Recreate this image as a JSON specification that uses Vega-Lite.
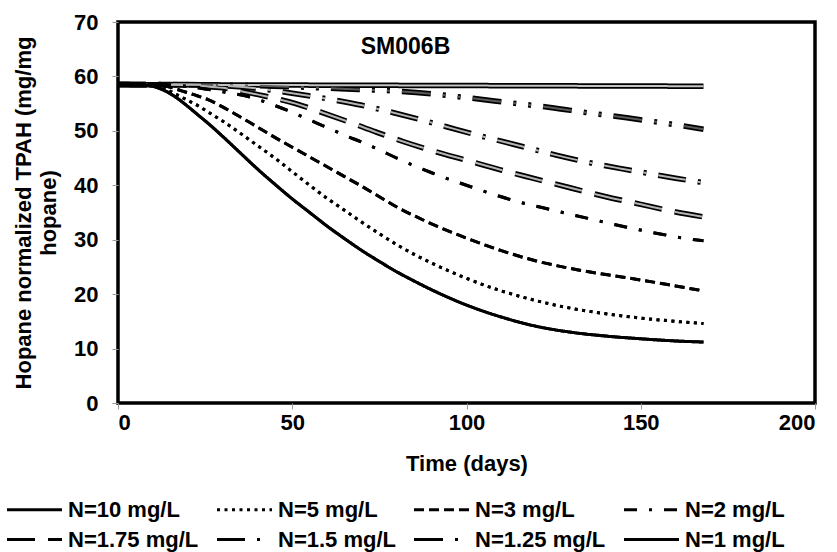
{
"$schema": "https://vega.github.io/schema/vega-lite/v6.json",
"width": 697, "height": 381,
"autosize": {"type": "none"},
"padding": {"left": 118, "top": 22, "right": 22, "bottom": 149},
"background": "white",
"config": {
 "font": "Liberation Sans",
 "view": {"stroke": "black", "strokeWidth": 3.5},
 "axis": {"labelFont": "Liberation Sans", "labelFontWeight": "bold", "labelFontSize": 22, "labelColor": "black",
  "titleFont": "Liberation Sans", "titleFontWeight": "bold", "titleFontSize": 22, "titleColor": "black",
  "grid": false, "domain": false, "tickColor": "#999999", "tickSize": 6, "tickWidth": 1},
 "legend": {"orient": "none", "legendX": -99, "legendY": 472, "columns": 4, "direction": "horizontal", "title": null,
  "symbolType": "M-2,0H2", "symbolSize": 756, "symbolStrokeWidth": 3, "symbolStrokeColor": "black", "labelFont": "Liberation Sans", "labelFontSize": 22, "labelFontWeight": "bold",
  "labelColor": "black", "labelOffset": 18, "columnPadding": 12, "rowPadding": 3, "labelLimit": 300, "padding": 0}
},
"title": {"text": "SM006B", "font": "Liberation Sans", "fontSize": 23, "fontWeight": "bold", "color": "black", "anchor": "middle", "dx": -61, "dy": 48, "offset": 0},
"data": {"values": [
{"N":"N=1 mg/L","t":0,"v":58.5},{"N":"N=1 mg/L","t":84,"v":58.35},{"N":"N=1 mg/L","t":168,"v":58.2},
{"N":"N=1.25 mg/L","t":0,"v":58.5},{"N":"N=1.25 mg/L","t":30,"v":58.4},{"N":"N=1.25 mg/L","t":50,"v":58.1},{"N":"N=1.25 mg/L","t":69,"v":57.6},{"N":"N=1.25 mg/L","t":80,"v":57.3},{"N":"N=1.25 mg/L","t":90,"v":56.8},{"N":"N=1.25 mg/L","t":100,"v":56.1},{"N":"N=1.25 mg/L","t":112,"v":55.2},{"N":"N=1.25 mg/L","t":124,"v":54.3},{"N":"N=1.25 mg/L","t":135,"v":53.3},{"N":"N=1.25 mg/L","t":146,"v":52.4},{"N":"N=1.25 mg/L","t":157,"v":51.4},{"N":"N=1.25 mg/L","t":168,"v":50.3},
{"N":"N=1.5 mg/L","t":0,"v":58.5},{"N":"N=1.5 mg/L","t":20,"v":58.5},{"N":"N=1.5 mg/L","t":30,"v":58.3},{"N":"N=1.5 mg/L","t":40,"v":57.8},{"N":"N=1.5 mg/L","t":49,"v":57.0},{"N":"N=1.5 mg/L","t":60,"v":55.9},{"N":"N=1.5 mg/L","t":70,"v":54.7},{"N":"N=1.5 mg/L","t":78,"v":53.5},{"N":"N=1.5 mg/L","t":86,"v":52.2},{"N":"N=1.5 mg/L","t":94,"v":50.8},{"N":"N=1.5 mg/L","t":102,"v":49.4},{"N":"N=1.5 mg/L","t":110,"v":48.1},{"N":"N=1.5 mg/L","t":118,"v":46.8},{"N":"N=1.5 mg/L","t":126,"v":45.5},{"N":"N=1.5 mg/L","t":135,"v":44.2},{"N":"N=1.5 mg/L","t":144,"v":43.1},{"N":"N=1.5 mg/L","t":152,"v":42.2},{"N":"N=1.5 mg/L","t":160,"v":41.3},{"N":"N=1.5 mg/L","t":168,"v":40.5},
{"N":"N=1.75 mg/L","t":0,"v":58.5},{"N":"N=1.75 mg/L","t":15,"v":58.5},{"N":"N=1.75 mg/L","t":25,"v":58.2},{"N":"N=1.75 mg/L","t":30,"v":57.9},{"N":"N=1.75 mg/L","t":36,"v":57.2},{"N":"N=1.75 mg/L","t":42,"v":56.4},{"N":"N=1.75 mg/L","t":51,"v":55.0},{"N":"N=1.75 mg/L","t":58,"v":53.5},{"N":"N=1.75 mg/L","t":66,"v":51.7},{"N":"N=1.75 mg/L","t":74,"v":49.8},{"N":"N=1.75 mg/L","t":82,"v":48.0},{"N":"N=1.75 mg/L","t":90,"v":46.4},{"N":"N=1.75 mg/L","t":100,"v":44.6},{"N":"N=1.75 mg/L","t":110,"v":42.8},{"N":"N=1.75 mg/L","t":119,"v":41.3},{"N":"N=1.75 mg/L","t":130,"v":39.5},{"N":"N=1.75 mg/L","t":140,"v":37.9},{"N":"N=1.75 mg/L","t":150,"v":36.5},{"N":"N=1.75 mg/L","t":160,"v":35.1},{"N":"N=1.75 mg/L","t":168,"v":34.2},
{"N":"N=2 mg/L","t":0,"v":58.5},{"N":"N=2 mg/L","t":14,"v":58.5},{"N":"N=2 mg/L","t":20,"v":58.2},{"N":"N=2 mg/L","t":25,"v":57.7},{"N":"N=2 mg/L","t":30,"v":57.2},{"N":"N=2 mg/L","t":38,"v":56.2},{"N":"N=2 mg/L","t":44,"v":54.9},{"N":"N=2 mg/L","t":50,"v":53.4},{"N":"N=2 mg/L","t":55,"v":52.0},{"N":"N=2 mg/L","t":60,"v":50.6},{"N":"N=2 mg/L","t":65,"v":49.2},{"N":"N=2 mg/L","t":70,"v":47.9},{"N":"N=2 mg/L","t":75,"v":46.5},{"N":"N=2 mg/L","t":80,"v":45.0},{"N":"N=2 mg/L","t":90,"v":42.3},{"N":"N=2 mg/L","t":100,"v":40.0},{"N":"N=2 mg/L","t":113,"v":37.3},{"N":"N=2 mg/L","t":125,"v":35.4},{"N":"N=2 mg/L","t":135,"v":33.9},{"N":"N=2 mg/L","t":146,"v":32.3},{"N":"N=2 mg/L","t":156,"v":31.0},{"N":"N=2 mg/L","t":164,"v":30.1},{"N":"N=2 mg/L","t":168,"v":29.8},
{"N":"N=3 mg/L","t":0,"v":58.5},{"N":"N=3 mg/L","t":10,"v":58.5},{"N":"N=3 mg/L","t":14,"v":58.2},{"N":"N=3 mg/L","t":18,"v":57.4},{"N":"N=3 mg/L","t":22,"v":56.6},{"N":"N=3 mg/L","t":26,"v":55.7},{"N":"N=3 mg/L","t":30,"v":54.4},{"N":"N=3 mg/L","t":35,"v":52.6},{"N":"N=3 mg/L","t":40,"v":50.7},{"N":"N=3 mg/L","t":45,"v":48.8},{"N":"N=3 mg/L","t":50,"v":47.0},{"N":"N=3 mg/L","t":55,"v":45.2},{"N":"N=3 mg/L","t":60,"v":43.4},{"N":"N=3 mg/L","t":65,"v":41.6},{"N":"N=3 mg/L","t":70,"v":39.8},{"N":"N=3 mg/L","t":75,"v":37.9},{"N":"N=3 mg/L","t":80,"v":36.0},{"N":"N=3 mg/L","t":85,"v":34.4},{"N":"N=3 mg/L","t":90,"v":32.9},{"N":"N=3 mg/L","t":100,"v":30.3},{"N":"N=3 mg/L","t":110,"v":28.0},{"N":"N=3 mg/L","t":120,"v":26.1},{"N":"N=3 mg/L","t":130,"v":24.7},{"N":"N=3 mg/L","t":140,"v":23.6},{"N":"N=3 mg/L","t":150,"v":22.6},{"N":"N=3 mg/L","t":160,"v":21.5},{"N":"N=3 mg/L","t":168,"v":20.6},
{"N":"N=5 mg/L","t":0,"v":58.5},{"N":"N=5 mg/L","t":8,"v":58.5},{"N":"N=5 mg/L","t":11,"v":58.3},{"N":"N=5 mg/L","t":14,"v":57.6},{"N":"N=5 mg/L","t":17,"v":56.6},{"N":"N=5 mg/L","t":20,"v":55.6},{"N":"N=5 mg/L","t":23,"v":54.6},{"N":"N=5 mg/L","t":26,"v":53.4},{"N":"N=5 mg/L","t":30,"v":51.8},{"N":"N=5 mg/L","t":35,"v":49.6},{"N":"N=5 mg/L","t":40,"v":47.3},{"N":"N=5 mg/L","t":45,"v":45.0},{"N":"N=5 mg/L","t":50,"v":42.5},{"N":"N=5 mg/L","t":55,"v":40.0},{"N":"N=5 mg/L","t":60,"v":37.6},{"N":"N=5 mg/L","t":65,"v":35.4},{"N":"N=5 mg/L","t":70,"v":33.2},{"N":"N=5 mg/L","t":75,"v":31.1},{"N":"N=5 mg/L","t":80,"v":29.1},{"N":"N=5 mg/L","t":85,"v":27.3},{"N":"N=5 mg/L","t":90,"v":25.7},{"N":"N=5 mg/L","t":100,"v":22.9},{"N":"N=5 mg/L","t":110,"v":20.6},{"N":"N=5 mg/L","t":120,"v":18.8},{"N":"N=5 mg/L","t":130,"v":17.4},{"N":"N=5 mg/L","t":140,"v":16.4},{"N":"N=5 mg/L","t":150,"v":15.6},{"N":"N=5 mg/L","t":160,"v":15.0},{"N":"N=5 mg/L","t":168,"v":14.6},
{"N":"N=10 mg/L","t":0,"v":58.5},{"N":"N=10 mg/L","t":5,"v":58.5},{"N":"N=10 mg/L","t":8,"v":58.4},{"N":"N=10 mg/L","t":11,"v":58.0},{"N":"N=10 mg/L","t":14,"v":57.2},{"N":"N=10 mg/L","t":17,"v":56.0},{"N":"N=10 mg/L","t":20,"v":54.5},{"N":"N=10 mg/L","t":23,"v":52.9},{"N":"N=10 mg/L","t":26,"v":51.3},{"N":"N=10 mg/L","t":30,"v":49.0},{"N":"N=10 mg/L","t":35,"v":46.0},{"N":"N=10 mg/L","t":40,"v":43.0},{"N":"N=10 mg/L","t":45,"v":40.2},{"N":"N=10 mg/L","t":50,"v":37.5},{"N":"N=10 mg/L","t":55,"v":35.0},{"N":"N=10 mg/L","t":60,"v":32.5},{"N":"N=10 mg/L","t":65,"v":30.2},{"N":"N=10 mg/L","t":70,"v":28.0},{"N":"N=10 mg/L","t":75,"v":26.0},{"N":"N=10 mg/L","t":80,"v":24.1},{"N":"N=10 mg/L","t":85,"v":22.4},{"N":"N=10 mg/L","t":90,"v":20.8},{"N":"N=10 mg/L","t":100,"v":18.0},{"N":"N=10 mg/L","t":110,"v":15.8},{"N":"N=10 mg/L","t":120,"v":14.1},{"N":"N=10 mg/L","t":130,"v":13.0},{"N":"N=10 mg/L","t":140,"v":12.3},{"N":"N=10 mg/L","t":150,"v":11.8},{"N":"N=10 mg/L","t":160,"v":11.4},{"N":"N=10 mg/L","t":168,"v":11.2}
]},
"encoding": {
 "x": {"field": "t", "type": "quantitative", "scale": {"domain": [0, 200], "nice": false},
  "axis": {"values": [0, 50, 100, 150, 200], "title": "Time (days)", "labelPadding": 3, "titlePadding": 20}},
 "y": {"field": "v", "type": "quantitative", "scale": {"domain": [0, 70], "nice": false},
  "axis": {"values": [0, 10, 20, 30, 40, 50, 60, 70], "title": ["Hopane normalized TPAH (mg/mg", "hopane)"], "titleLineHeight": 25, "labelPadding": 14, "titlePadding": 13}}
},
"layer": [
 {"mark": {"type": "line", "interpolate": "monotone", "color": "black"},
  "encoding": {
   "detail": {"field": "N"},
   "strokeWidth": {"condition": {"test": "indexof(['N=1.75 mg/L','N=1.5 mg/L','N=1.25 mg/L','N=1 mg/L'], datum.N) >= 0", "value": 5.5}, "value": 3},
   "strokeDash": {"field": "N", "type": "nominal",
    "scale": {"domain": ["N=10 mg/L","N=5 mg/L","N=3 mg/L","N=2 mg/L","N=1.75 mg/L","N=1.5 mg/L","N=1.25 mg/L","N=1 mg/L"],
     "range": [[1,0],[3,4.5],[10,5],[13,12,3,12],[28,13],[28,12,3,12],[29,12,3,12,3,12],[1,0]]}}
  }},
 {"mark": {"type": "line", "interpolate": "monotone"},
  "encoding": {
   "detail": {"field": "N"},
   "strokeWidth": {"condition": {"test": "indexof(['N=1.75 mg/L','N=1.5 mg/L','N=1.25 mg/L','N=1 mg/L'], datum.N) >= 0", "value": 2}, "value": 3},
   "color": {"field": "N", "type": "nominal", "legend": null,
    "scale": {"domain": ["N=10 mg/L","N=5 mg/L","N=3 mg/L","N=2 mg/L","N=1.75 mg/L","N=1.5 mg/L","N=1.25 mg/L","N=1 mg/L"],
     "range": ["#000000","#000000","#000000","#000000","#b4b4b4","#b4b4b4","#5a5a5a","#c4c4c4"]}},
   "strokeDash": {"field": "N", "type": "nominal", "legend": null,
    "scale": {"domain": ["N=10 mg/L","N=5 mg/L","N=3 mg/L","N=2 mg/L","N=1.75 mg/L","N=1.5 mg/L","N=1.25 mg/L","N=1 mg/L"],
     "range": [[1,0],[3,4.5],[10,5],[13,12,3,12],[28,13],[28,12,3,12],[29,12,3,12,3,12],[1,0]]}}
  }}
],
"resolve": {"scale": {"color": "independent", "strokeDash": "independent"}, "legend": {"strokeDash": "independent"}}
}
